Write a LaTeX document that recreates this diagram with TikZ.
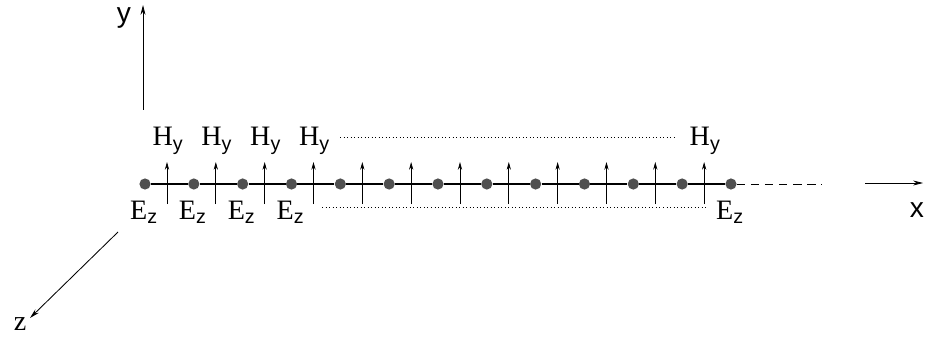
\documentclass[tikz,border=0pt]{standalone}
\usepackage{fontspec}
\setmainfont{Liberation Serif}
\setsansfont{Liberation Sans}
\usetikzlibrary{arrows.meta, positioning, calc}
\definecolor{dotgray}{HTML}{505050}

\newcommand{\fld}[2]{#1\textsubscript{\sffamily #2}}

\begin{document}
\begin{tikzpicture}[x=0.025cm, y=-0.025cm,
  font=\fontsize{20}{24}\selectfont,
  site/.style={circle, fill=dotgray, inner sep=0pt, minimum size=0.28cm},
  axis/.style={line width=0.6pt, -{Stealth[length=7pt, width=3.5pt]}},
  hfield/.style={line width=0.5pt, -{Stealth[length=5.5pt, width=3pt]}}]
  \useasboundingbox (0,0) rectangle (928,341);

  % axes
  \coordinate (yb) at (143,110);
  \coordinate (yt) at (143,5);
  \draw[axis] (yb) -- (yt);
  \node[inner sep=1pt] (ylab) at (124,18) {\sffamily y};
  \coordinate (xb) at (865,183);
  \coordinate (xt) at (923,183);
  \draw[axis] (xb) -- (xt);
  \node (xlab) at (917,210) {\sffamily x};
  \coordinate (zb) at (118,232);
  \coordinate (zt) at (30,318);
  \draw[axis] (zb) -- (zt);
  \node (zlab) at (20,324) {z};

  % lattice sites (E_z)
  \foreach \i in {0,...,12} {
    \node[site] (e\i) at ({145+48.83*\i},184) {};
  }
  \foreach \i [evaluate=\i as \j using int(\i+1)] in {0,...,11} {
    \draw[line width=1pt] (e\i) -- (e\j);
  }
  \coordinate (dend) at (822,184);
  \draw[line width=0.7pt, dash pattern=on 6pt off 4pt] (e12) -- (dend);

  % H_y arrows
  \foreach \i in {0,...,11} {
    \coordinate (hb\i) at ({167+48.83*\i},204);
    \coordinate (ht\i) at ({167+48.83*\i},162);
    \draw[hfield] (hb\i) -- (ht\i);
  }

  % labels
  \foreach \i in {0,1,2,3,11} {
    \node (h\i) at ($(ht\i)+(1,-21)$) {\fld{H}{y}};
  }
  \foreach \i in {0,1,2,3,12} {
    \node (ez\i) at ($(e\i)+(-1,28)$) {\fld{E}{z}};
  }

  % dotted bounds
  \coordinate (ua) at (340,137);
  \coordinate (ub) at (675,137);
  \coordinate (la) at (322,207);
  \coordinate (lb) at (706,207);
  \draw[line width=0.5pt, dotted] (ua) -- (ub);
  \draw[line width=0.5pt, dotted] (la) -- (lb);
\end{tikzpicture}
\end{document}
